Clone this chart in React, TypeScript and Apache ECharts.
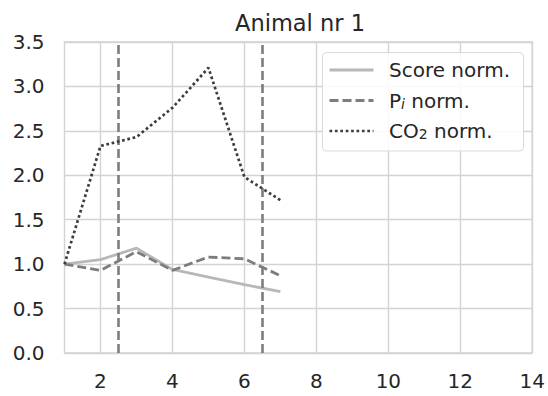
import React, { useEffect, useRef } from "react";
import * as echarts from "echarts";

const xValues = [1, 2, 3, 4, 5, 6, 7];
const scoreNorm = [1.0, 1.05, 1.18, 0.94, 0.855, 0.77, 0.69];
const piNorm = [1.0, 0.93, 1.14, 0.93, 1.08, 1.06, 0.87];
const co2Norm = [1.0, 2.33, 2.43, 2.76, 3.21, 1.98, 1.72];
const verticalMarks = [2.5, 6.5];
const xTicks = [2, 4, 6, 8, 10, 12, 14];
const title = "Animal nr 1";

const FONT = "DejaVu Sans";
const TEXT = "#262626";

const SCORE_STYLE = { color: "#b8b8b8", width: 2.8 };
const PI_STYLE = { color: "#7d7d7d", width: 2.8, dash: [9, 4] };
const CO2_STYLE = { color: "#3d3d3d", width: 2.7, dash: [2.7, 2.7] };

export default function App() {
  const ref = useRef<HTMLDivElement>(null);
  useEffect(() => {
    if (!ref.current) return;
    const chart = echarts.init(ref.current, undefined, { renderer: "svg" });
    const pairs = (ys: number[]) => xValues.map((x, i) => [x, ys[i]]);
    const legendX = 322.5;
    const legendY = 52.5;
    const rowY = [70, 100.5, 131];
    const lineStyles = [
      { stroke: SCORE_STYLE.color, lineWidth: SCORE_STYLE.width },
      { stroke: PI_STYLE.color, lineWidth: PI_STYLE.width, lineDash: PI_STYLE.dash },
      { stroke: CO2_STYLE.color, lineWidth: CO2_STYLE.width, lineDash: CO2_STYLE.dash },
    ];
    const legendTexts = [
      "{m|Score norm.}",
      "{m|P}{s|i}{m| norm.}",
      "{m|CO}{n|2}{m| norm.}",
    ];
    const rich = {
      m: { fontSize: 20, fontFamily: FONT, fill: TEXT, lineHeight: 20, verticalAlign: "middle" },
      s: { fontSize: 14, fontFamily: FONT, fontStyle: "italic", fill: TEXT, lineHeight: 5, verticalAlign: "bottom" },
      n: { fontSize: 14, fontFamily: FONT, fill: TEXT, lineHeight: 5, verticalAlign: "bottom" },
    };
    const graphicEls: any[] = [
      {
        type: "rect",
        shape: { x: legendX, y: legendY, width: 201, height: 98.5, r: 4 },
        style: { fill: "rgba(255,255,255,0.85)", stroke: "#d9d9d9", lineWidth: 1 },
        z: 100,
      },
    ];
    rowY.forEach((y, i) => {
      graphicEls.push({
        type: "line",
        shape: { x1: 329.5, y1: y, x2: 373.5, y2: y },
        style: lineStyles[i],
        z: 101,
      });
      graphicEls.push({
        type: "text",
        x: 389,
        y: y,
        style: {
          text: legendTexts[i],
          rich,
          verticalAlign: "middle",
          align: "left",
        },
        z: 101,
      });
    });

    chart.setOption({
      animation: false,
      backgroundColor: "#ffffff",
      title: {
        text: title,
        left: 295,
        textAlign: "center",
        top: 6,
        textStyle: { fontFamily: FONT, fontSize: 22.5, fontWeight: "normal", color: TEXT },
      },
      grid: {
        left: 64.5,
        right: 14,
        top: 42,
        bottom: 43,
        show: true,
        borderColor: "#d3d3d3",
        borderWidth: 1.4,
        containLabel: false,
      },
      xAxis: {
        type: "value",
        min: 1,
        max: 14,
        axisLine: { show: false },
        axisTick: { show: false, customValues: xTicks },
        axisLabel: {
          customValues: xTicks,
          color: TEXT,
          fontFamily: FONT,
          fontSize: 20,
          margin: 18,
        },
        splitLine: { show: true, lineStyle: { color: "#d3d3d3", width: 1.4 } },
      },
      yAxis: {
        type: "value",
        min: 0,
        max: 3.5,
        interval: 0.5,
        axisLine: { show: false },
        axisTick: { show: false },
        axisLabel: {
          color: TEXT,
          fontFamily: FONT,
          fontSize: 20,
          margin: 20,
          formatter: (v: number) => v.toFixed(1),
        },
        splitLine: { show: true, lineStyle: { color: "#d3d3d3", width: 1.4 } },
      },
      series: [
        {
          name: "Score norm.",
          type: "line",
          data: pairs(scoreNorm),
          showSymbol: false,
          symbol: "none",
          lineStyle: { color: SCORE_STYLE.color, width: SCORE_STYLE.width },
          z: 3,
        },
        {
          name: "Pi norm.",
          type: "line",
          data: pairs(piNorm),
          showSymbol: false,
          symbol: "none",
          lineStyle: { color: PI_STYLE.color, width: PI_STYLE.width, type: PI_STYLE.dash },
          z: 4,
          markLine: {
            silent: true,
            symbol: "none",
            label: { show: false },
            lineStyle: { color: "#7d7d7d", width: 2.6, type: [9, 4] },
            data: verticalMarks.map((v) => ({ xAxis: v })),
          },
        },
        {
          name: "CO2 norm.",
          type: "line",
          data: pairs(co2Norm),
          showSymbol: false,
          symbol: "none",
          lineStyle: { color: CO2_STYLE.color, width: CO2_STYLE.width, type: CO2_STYLE.dash },
          z: 5,
        },
      ],
      graphic: { elements: graphicEls },
    });
    return () => chart.dispose();
  }, []);
  return (
    <div
      ref={ref}
      style={{ position: "absolute", left: 0, top: 0, width: 548, height: 396 }}
    />
  );
}
